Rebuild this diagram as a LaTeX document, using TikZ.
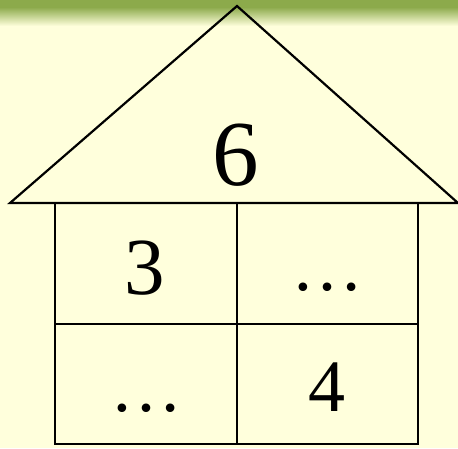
\documentclass[tikz,border=0pt]{standalone}
\usepackage{fontspec}
\setmainfont{Liberation Serif}
\usepackage{xcolor}
\definecolor{paper}{RGB}{255,255,220}
\definecolor{leaf}{RGB}{140,170,75}

\begin{document}
\begin{tikzpicture}[
  x=1pt,y=-1pt,
  wall/.style={draw=black,line width=2.2pt,line join=miter},
  num/.style={inner sep=0pt,text=black},
  big/.style={num,font=\fontsize{93}{93}\selectfont},
  mid/.style={num,font=\fontsize{81}{81}\selectfont},
  small/.style={num,font=\fontsize{74}{74}\selectfont},
  dots/.style={num,font=\fontsize{72}{72}\selectfont}
]
  \useasboundingbox (0,0) rectangle (458,448);
  \fill[paper] (0,0) rectangle (458,448);
  \fill[leaf] (0,0) rectangle (458,7);
  \shade[top color=leaf,bottom color=paper] (0,7) rectangle (458,26);

  % roof
  \coordinate (eaveL) at (10,203);
  \coordinate (apex) at (237,6);
  \coordinate (eaveR) at (458,203);
  \draw[wall] (eaveL) -- (apex) -- (eaveR) -- cycle;

  % body
  \coordinate (nw) at (55,203);
  \coordinate (se) at (418,444);
  \coordinate (midT) at (237,203);
  \coordinate (midB) at (237,444);
  \coordinate (midL) at (55,324);
  \coordinate (midR) at (418,324);
  \draw[wall] (nw) rectangle (se);
  \draw[wall] (midT) -- (midB);
  \draw[wall] (midL) -- (midR);

  \node[big] (top) at (236,155) {6};
  \node[mid] (tl) at (145,268) {3};
  \node[dots] (tr) at (327.5,287) {…};
  \node[dots] (bl) at (146,408) {…};
  \node[small] (br) at (327,387) {4};
\end{tikzpicture}
\end{document}
